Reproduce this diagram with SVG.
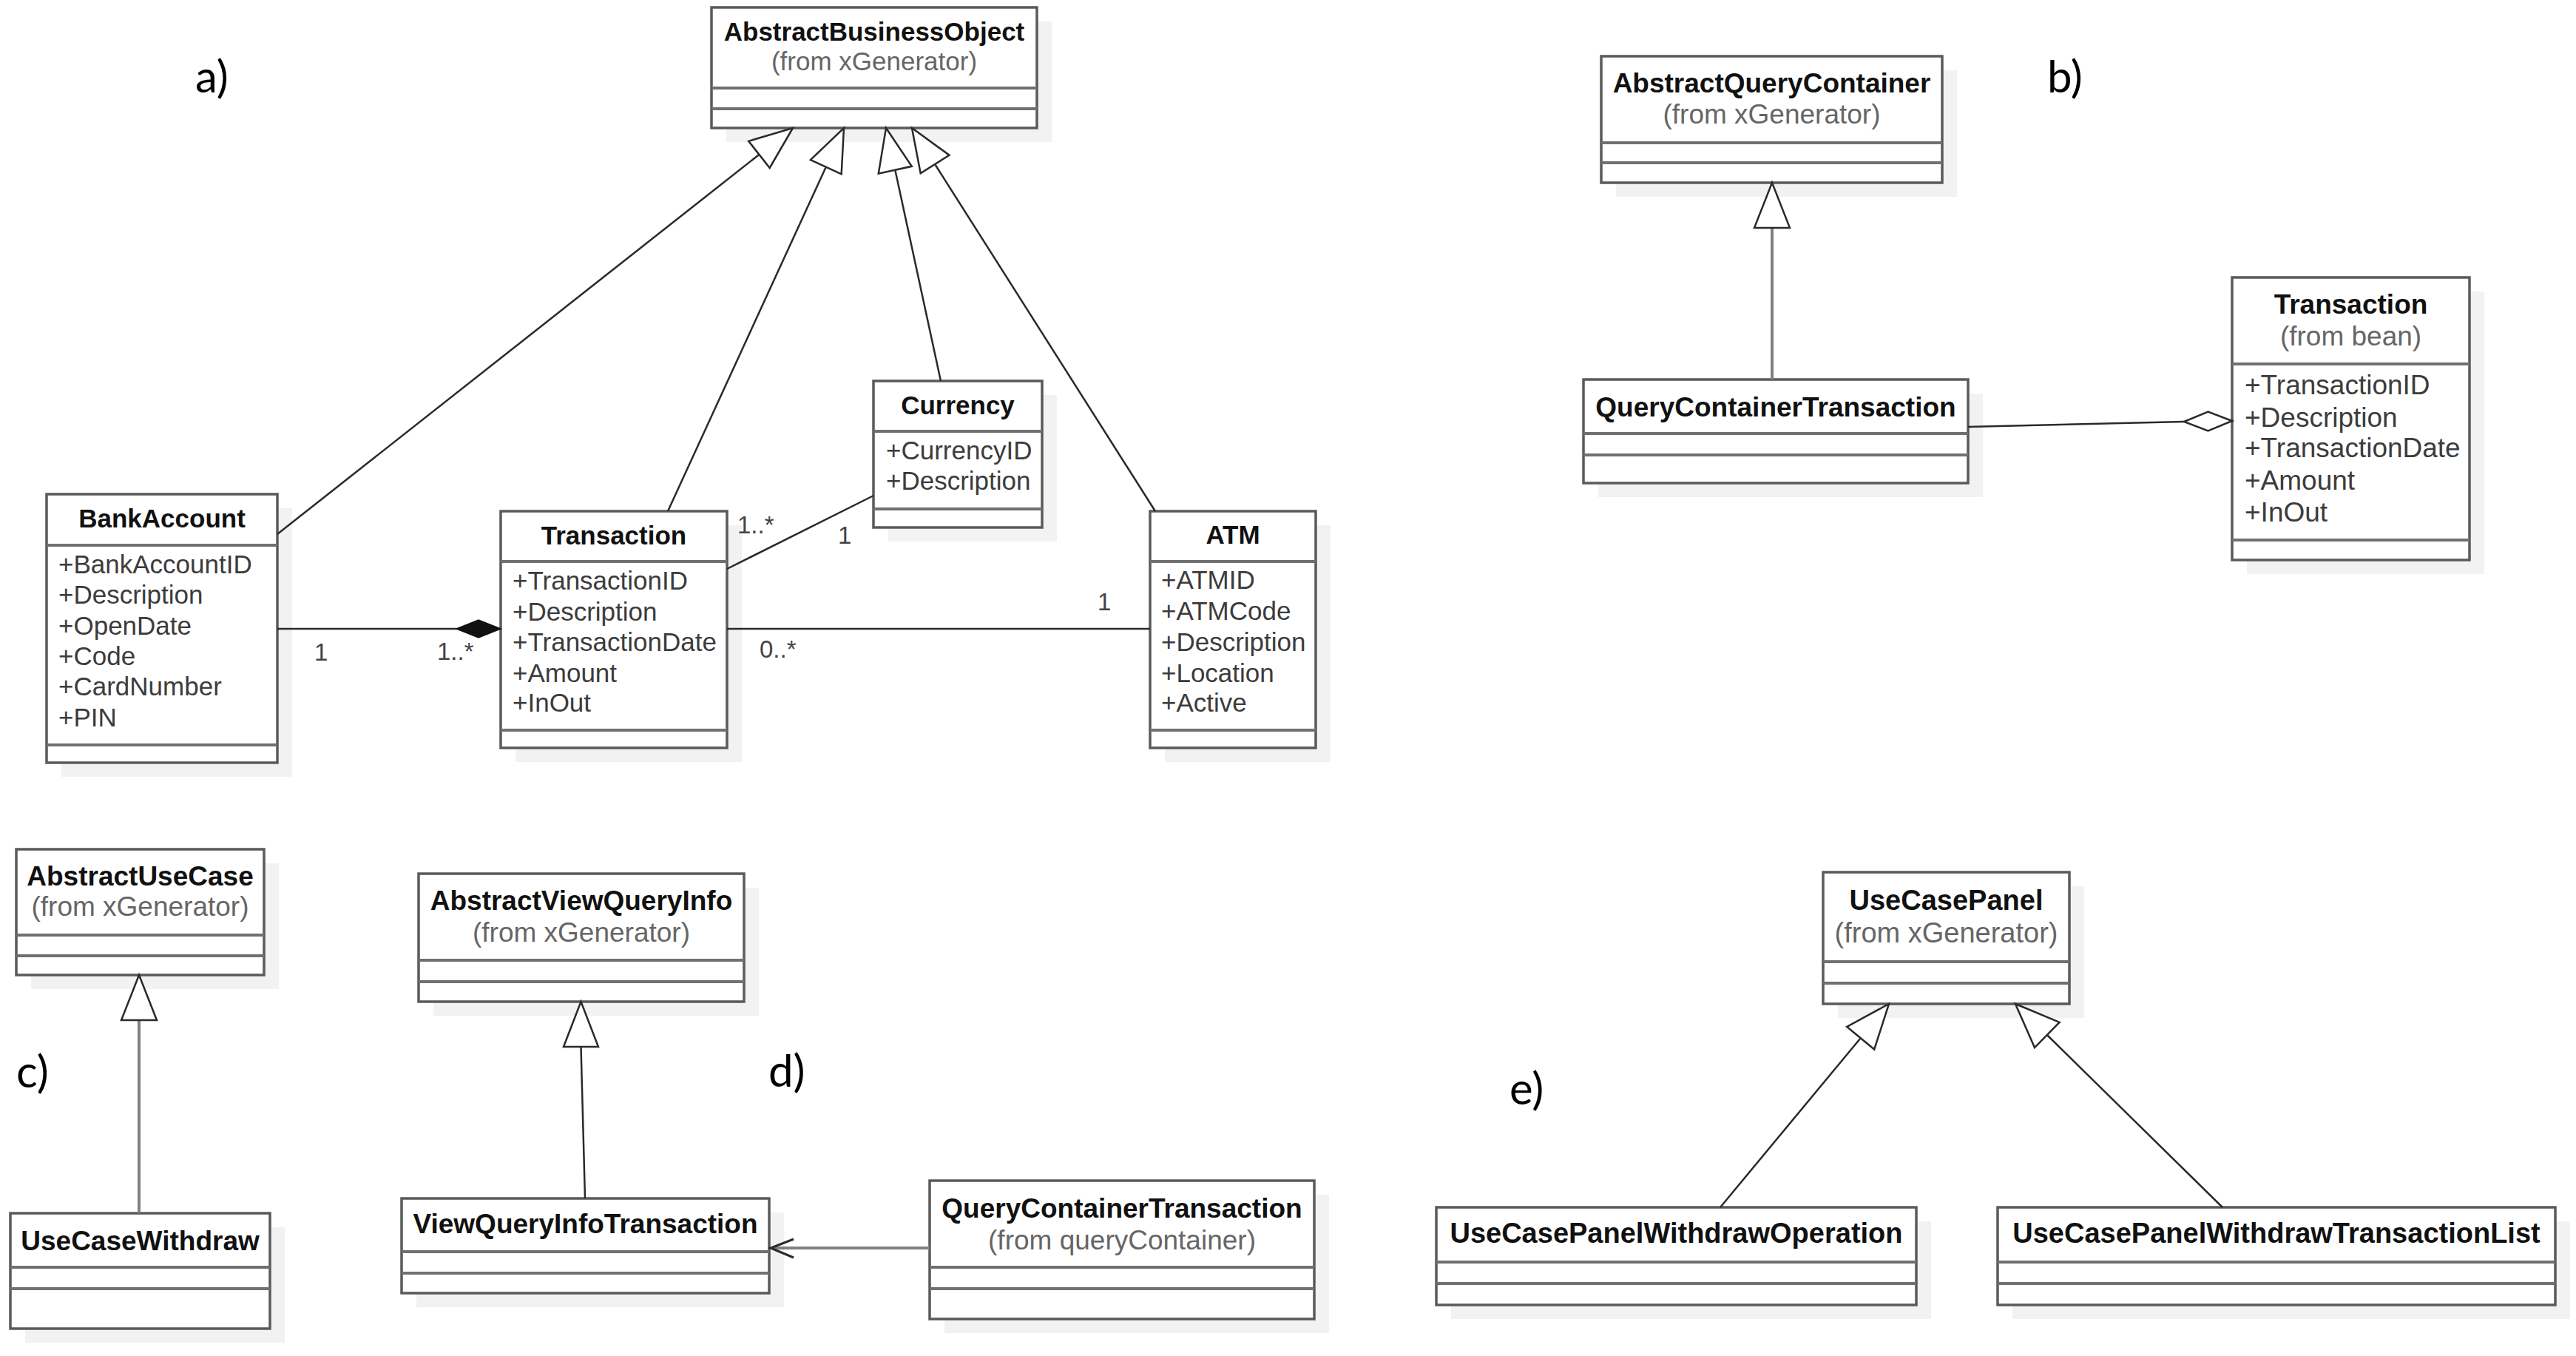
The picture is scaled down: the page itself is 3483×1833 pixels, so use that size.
<svg xmlns="http://www.w3.org/2000/svg" width="3483" height="1833" viewBox="0 0 3483 1833">
<style>
.sh{fill:#f2f2f2}
.box{fill:#fff;stroke:#5a5a5a;stroke-width:3.5}
.sep{stroke:#707070;stroke-width:4}
text{font-family:"Liberation Sans",Arial,sans-serif}
.t{font-weight:bold;fill:#111;text-anchor:middle}
.s{fill:#666;text-anchor:middle}
.at{fill:#3c3c3c}
.fa{font-size:35px}
.fb{font-size:37px}
.fe{font-size:38px}
.m{font-size:33px;fill:#444}
.lab{font-family:Lato,"Open Sans",sans-serif;font-size:60px;fill:#000}
.ln{stroke:#2a2a2a;stroke-width:2.5;fill:none}
.lg{stroke:#808080;stroke-width:4;fill:none}
.tri{fill:#fff;stroke:#2a2a2a;stroke-width:2.5;stroke-linejoin:miter}
</style>

<g id="labels">
<text class="lab" x="264" y="125">a)</text>
<text class="lab" x="2768" y="125">b)</text>
<text class="lab" x="22" y="1470">c)</text>
<text class="lab" x="1039" y="1469">d)</text>
<text class="lab" x="2041" y="1493">e)</text>
</g>

<!-- panel a -->
<g id="AbstractBusinessObject">
<rect class="sh" x="982" y="29" width="440" height="163"/>
<rect class="box" x="962" y="10" width="440" height="163"/>
<line class="sep" x1="962" y1="119" x2="1402" y2="119"/>
<line class="sep" x1="962" y1="147" x2="1402" y2="147"/>
<text class="t fa" x="1182" y="55">AbstractBusinessObject</text>
<text class="s fa" x="1182" y="95">(from xGenerator)</text>
</g>

<g id="BankAccount">
<rect class="sh" x="83" y="687" width="312" height="363"/>
<rect class="box" x="63" y="668" width="312" height="363"/>
<line class="sep" x1="63" y1="737" x2="375" y2="737"/>
<line class="sep" x1="63" y1="1007" x2="375" y2="1007"/>
<text class="t fa" x="219" y="713">BankAccount</text>
<g class="at fa">
<text x="79" y="775">+BankAccountID</text>
<text x="79" y="816">+Description</text>
<text x="79" y="858">+OpenDate</text>
<text x="79" y="899">+Code</text>
<text x="79" y="940">+CardNumber</text>
<text x="79" y="982">+PIN</text>
</g>
</g>

<g id="Transaction_a">
<rect class="sh" x="697" y="710" width="306" height="320"/>
<rect class="box" x="677" y="691" width="306" height="320"/>
<line class="sep" x1="677" y1="759" x2="983" y2="759"/>
<line class="sep" x1="677" y1="987" x2="983" y2="987"/>
<text class="t fa" x="830" y="736">Transaction</text>
<g class="at fa">
<text x="693" y="797">+TransactionID</text>
<text x="693" y="839">+Description</text>
<text x="693" y="880">+TransactionDate</text>
<text x="693" y="922">+Amount</text>
<text x="693" y="962">+InOut</text>
</g>
</g>

<g id="Currency">
<rect class="sh" x="1201" y="534" width="228" height="198"/>
<rect class="box" x="1181" y="515" width="228" height="198"/>
<line class="sep" x1="1181" y1="583" x2="1409" y2="583"/>
<line class="sep" x1="1181" y1="688" x2="1409" y2="688"/>
<text class="t fa" x="1295" y="560">Currency</text>
<g class="at fa">
<text x="1198" y="621">+CurrencyID</text>
<text x="1198" y="662">+Description</text>
</g>
</g>

<g id="ATM">
<rect class="sh" x="1575" y="710" width="224" height="320"/>
<rect class="box" x="1555" y="691" width="224" height="320"/>
<line class="sep" x1="1555" y1="759" x2="1779" y2="759"/>
<line class="sep" x1="1555" y1="987" x2="1779" y2="987"/>
<text class="t fa" x="1667" y="735">ATM</text>
<g class="at fa">
<text x="1570" y="796">+ATMID</text>
<text x="1570" y="838">+ATMCode</text>
<text x="1570" y="880">+Description</text>
<text x="1570" y="922">+Location</text>
<text x="1570" y="962">+Active</text>
</g>
</g>

<!-- panel b -->
<g id="AbstractQueryContainer">
<rect class="sh" x="2185" y="95" width="461" height="171"/>
<rect class="box" x="2165" y="76" width="461" height="171"/>
<line class="sep" x1="2165" y1="193" x2="2626" y2="193"/>
<line class="sep" x1="2165" y1="220" x2="2626" y2="220"/>
<text class="t fb" x="2395.5" y="125">AbstractQueryContainer</text>
<text class="s fb" x="2395.5" y="167">(from xGenerator)</text>
</g>

<g id="QueryContainerTransaction_b">
<rect class="sh" x="2161" y="532" width="520" height="140"/>
<rect class="box" x="2141" y="513" width="520" height="140"/>
<line class="sep" x1="2141" y1="586" x2="2661" y2="586"/>
<line class="sep" x1="2141" y1="615" x2="2661" y2="615"/>
<text class="t fb" x="2401" y="563">QueryContainerTransaction</text>
</g>

<g id="Transaction_b">
<rect class="sh" x="3038" y="394" width="321" height="382"/>
<rect class="box" x="3018" y="375" width="321" height="382"/>
<line class="sep" x1="3018" y1="492" x2="3339" y2="492"/>
<line class="sep" x1="3018" y1="730" x2="3339" y2="730"/>
<text class="t fb" x="3178.5" y="424">Transaction</text>
<text class="s fb" x="3178.5" y="467">(from bean)</text>
<g class="at fb">
<text x="3035" y="533">+TransactionID</text>
<text x="3035" y="577">+Description</text>
<text x="3035" y="618">+TransactionDate</text>
<text x="3035" y="662">+Amount</text>
<text x="3035" y="705">+InOut</text>
</g>
</g>

<!-- panel c -->
<g id="AbstractUseCase">
<rect class="sh" x="42" y="1167" width="335" height="170"/>
<rect class="box" x="22" y="1148" width="335" height="170"/>
<line class="sep" x1="22" y1="1264" x2="357" y2="1264"/>
<line class="sep" x1="22" y1="1292" x2="357" y2="1292"/>
<text class="t fb" x="189.5" y="1197">AbstractUseCase</text>
<text class="s fb" x="189.5" y="1238">(from xGenerator)</text>
</g>

<g id="UseCaseWithdraw">
<rect class="sh" x="34" y="1659" width="351" height="156"/>
<rect class="box" x="14" y="1640" width="351" height="156"/>
<line class="sep" x1="14" y1="1713" x2="365" y2="1713"/>
<line class="sep" x1="14" y1="1742" x2="365" y2="1742"/>
<text class="t fb" x="189.5" y="1690">UseCaseWithdraw</text>
</g>

<!-- panel d -->
<g id="AbstractViewQueryInfo">
<rect class="sh" x="586" y="1200" width="440" height="173"/>
<rect class="box" x="566" y="1181" width="440" height="173"/>
<line class="sep" x1="566" y1="1298" x2="1006" y2="1298"/>
<line class="sep" x1="566" y1="1327" x2="1006" y2="1327"/>
<text class="t fb" x="786" y="1230">AbstractViewQueryInfo</text>
<text class="s fb" x="786" y="1273">(from xGenerator)</text>
</g>

<g id="ViewQueryInfoTransaction">
<rect class="sh" x="563" y="1639" width="497" height="128"/>
<rect class="box" x="543" y="1620" width="497" height="128"/>
<line class="sep" x1="543" y1="1692" x2="1040" y2="1692"/>
<line class="sep" x1="543" y1="1721" x2="1040" y2="1721"/>
<text class="t fb" x="791.5" y="1667">ViewQueryInfoTransaction</text>
</g>

<g id="QueryContainerTransaction_d">
<rect class="sh" x="1277" y="1615" width="520" height="187"/>
<rect class="box" x="1257" y="1596" width="520" height="187"/>
<line class="sep" x1="1257" y1="1713" x2="1777" y2="1713"/>
<line class="sep" x1="1257" y1="1742" x2="1777" y2="1742"/>
<text class="t fb" x="1517" y="1646">QueryContainerTransaction</text>
<text class="s fb" x="1517" y="1689">(from queryContainer)</text>
</g>

<!-- panel e -->
<g id="UseCasePanel">
<rect class="sh" x="2485" y="1198" width="333" height="178"/>
<rect class="box" x="2465" y="1179" width="333" height="178"/>
<line class="sep" x1="2465" y1="1300" x2="2798" y2="1300"/>
<line class="sep" x1="2465" y1="1329" x2="2798" y2="1329"/>
<text class="t fe" x="2631.5" y="1230">UseCasePanel</text>
<text class="s fe" x="2631.5" y="1274">(from xGenerator)</text>
</g>

<g id="UseCasePanelWithdrawOperation">
<rect class="sh" x="1962" y="1651" width="649" height="132"/>
<rect class="box" x="1942" y="1632" width="649" height="132"/>
<line class="sep" x1="1942" y1="1706" x2="2591" y2="1706"/>
<line class="sep" x1="1942" y1="1735" x2="2591" y2="1735"/>
<text class="t fe" x="2266.5" y="1680">UseCasePanelWithdrawOperation</text>
</g>

<g id="UseCasePanelWithdrawTransactionList">
<rect class="sh" x="2721" y="1651" width="754" height="132"/>
<rect class="box" x="2701" y="1632" width="754" height="132"/>
<line class="sep" x1="2701" y1="1706" x2="3455" y2="1706"/>
<line class="sep" x1="2701" y1="1735" x2="3455" y2="1735"/>
<text class="t fe" x="3078" y="1680">UseCasePanelWithdrawTransactionList</text>
</g>

<g id="connectors">
<!-- a: generalizations -->
<line class="ln" x1="375" y1="722" x2="1026.4" y2="208.9"/>
<polygon class="tri" points="1072,173 1040.7,227 1012.2,190.8"/>
<line class="ln" x1="903" y1="691" x2="1116.8" y2="225.7"/>
<polygon class="tri" points="1141,173 1137.7,235.3 1095.9,216.1"/>
<line class="ln" x1="1272" y1="515" x2="1210.3" y2="229.7"/>
<polygon class="tri" points="1198,173 1232.8,224.8 1187.8,234.6"/>
<line class="ln" x1="1562" y1="691" x2="1264.1" y2="222"/>
<polygon class="tri" points="1233,173 1283.5,209.7 1244.7,234.3"/>
<!-- a: associations -->
<line class="ln" x1="375" y1="850" x2="618" y2="850"/>
<polygon points="677,850 647,838 617,850 647,862" fill="#111" stroke="#111" stroke-width="1.5"/>
<line class="ln" x1="983" y1="850" x2="1555" y2="850"/>
<line class="ln" x1="983" y1="769" x2="1181" y2="670"/>
<g class="m">
<text x="425" y="893">1</text>
<text x="591" y="892">1..*</text>
<text x="1027" y="889">0..*</text>
<text x="1484" y="825">1</text>
<text x="997" y="721">1..*</text>
<text x="1133" y="735">1</text>
</g>
<!-- b -->
<line class="lg" x1="2396" y1="513" x2="2396" y2="308"/>
<polygon class="tri" points="2396,247 2372,308 2420,308"/>
<line class="ln" x1="2661" y1="577" x2="2953" y2="570"/>
<polygon class="tri" points="3018,569 2985.5,556.5 2953,570 2985.5,582.5"/>
<!-- c -->
<line class="lg" x1="188" y1="1640" x2="188" y2="1379"/>
<polygon class="tri" points="188,1318 164,1379 212,1379"/>
<!-- d -->
<line class="ln" x1="791" y1="1620" x2="785.5" y2="1415"/>
<polygon class="tri" points="785.5,1354 762,1415 809,1415"/>
<line class="lg" x1="1257" y1="1687" x2="1043" y2="1687"/>
<polyline class="ln" points="1073,1675 1042,1687 1073,1700" style="stroke-width:3"/>
<!-- e -->
<line class="ln" x1="2326" y1="1632" x2="2515.7" y2="1403.2"/>
<polygon class="tri" points="2554,1357 2534.2,1418.5 2497.2,1387.9"/>
<line class="ln" x1="3005" y1="1632" x2="2767.8" y2="1399"/>
<polygon class="tri" points="2725,1357 2784.6,1381.9 2751,1416.1"/>
</g>
</svg>
